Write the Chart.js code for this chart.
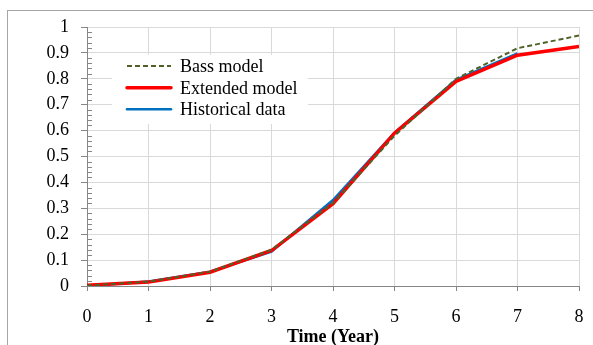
<!DOCTYPE html>
<html>
<head>
<meta charset="utf-8">
<script src="https://cdn.jsdelivr.net/npm/chart.js@4/dist/chart.umd.min.js"></script>
<style>
  html, body { margin: 0; padding: 0; background: #fff; }
  #wrap { position: relative; width: 593px; height: 345px; overflow: hidden; }
  #frame { position: absolute; left: 7px; top: 10px; width: 700px; height: 500px;
           border-left: 1px solid #a6a6a6; border-top: 1px solid #a6a6a6; }
  canvas { position: absolute; left: 0; top: 0; }
</style>
</head>
<body>
<div id="wrap">
  <div id="frame"></div>
  <canvas id="c" width="593" height="345"></canvas>
</div>
<script>
// ---- data ----
const years = [0, 1, 2, 3, 4, 5, 6, 7, 8];
const bassModel = [0.002, 0.017, 0.055, 0.140, 0.320, 0.580, 0.800, 0.918, 0.967];
const extendedModel = [0.003, 0.015, 0.053, 0.137, 0.318, 0.590, 0.790, 0.891, 0.925];
const historicalYears = [0, 1, 2, 3, 4, 5, 6, 7];
const historicalData = [0.000, 0.017, 0.055, 0.133, 0.332, 0.592, 0.796, 0.898];
const xTickLabels = ['0', '1', '2', '3', '4', '5', '6', '7', '8'];
const yTickLabels = ['0', '0.1', '0.2', '0.3', '0.4', '0.5', '0.6', '0.7', '0.8', '0.9', '1'];
const xTitle = 'Time (Year)';
const seriesNames = ['Bass model', 'Extended model', 'Historical data'];

const toXY = (xs, ys) => xs.map((x, i) => ({ x: x, y: ys[i] }));
const SERIF = '"Liberation Serif", "Times New Roman", serif';
const AXIS = '#868686';
const GRID = '#d9d9d9';

const legendPlugin = {
  id: 'customLegend',
  beforeDatasetsDraw(chart) {
    const ctx = chart.ctx;
    ctx.save();
    ctx.fillStyle = '#ffffff';
    ctx.fillRect(112, 55, 196, 69);
    ctx.restore();
  },
  afterDraw(chart) {
    const ctx = chart.ctx;
    const ys = chart.scales.y;
    const axisX = chart.chartArea.left;
    // minor ticks on y axis (inside)
    ctx.save();
    ctx.strokeStyle = AXIS;
    ctx.lineWidth = 1;
    for (let k = 1; k < 50; k++) {
      if (k % 5 === 0) continue;
      const py = Math.round(ys.getPixelForValue(k / 50)) + 0.5;
      ctx.beginPath();
      ctx.moveTo(axisX, py);
      ctx.lineTo(axisX + 5, py);
      ctx.stroke();
    }
    ctx.restore();
    // legend
    const rows = [66, 87.7, 109.3];
    const ds = chart.data.datasets;
    ctx.save();
    ctx.font = '18px ' + SERIF;
    ctx.textAlign = 'left';
    rows.forEach((ry, i) => {
      const d = ds[i];
      ctx.beginPath();
      ctx.strokeStyle = d.borderColor;
      ctx.lineWidth = d.borderWidth;
      ctx.setLineDash(d.borderDash || []);
      ctx.lineCap = d.borderDash ? 'butt' : 'round';
      ctx.moveTo(127, ry);
      ctx.lineTo(171, ry);
      ctx.stroke();
      ctx.setLineDash([]);
      ctx.fillStyle = '#000';
      ctx.textBaseline = 'alphabetic';
      ctx.fillText(d.label, 180, ry + 6);
    });
    ctx.restore();
  }
};

new Chart(document.getElementById('c'), {
  type: 'line',
  data: {
    datasets: [
      { label: seriesNames[0], data: toXY(years, bassModel), borderColor: '#4f6228',
        borderWidth: 2, borderDash: [5, 3], pointRadius: 0, tension: 0, fill: false },
      { label: seriesNames[1], data: toXY(years, extendedModel), borderColor: '#ff0000',
        borderWidth: 3.5, pointRadius: 0, tension: 0, fill: false },
      { label: seriesNames[2], data: toXY(historicalYears, historicalData), borderColor: '#0070c0',
        borderWidth: 2.5, pointRadius: 0, tension: 0, fill: false }
    ]
  },
  options: {
    responsive: false,
    animation: false,
    devicePixelRatio: 1,
    layout: { padding: { left: 0, right: 14, top: 27, bottom: 0 } },
    plugins: { legend: { display: false }, tooltip: { enabled: false } },
    scales: {
      x: {
        type: 'linear', min: 0, max: 8, offset: false,
        afterFit(s) { s.height = 59; s.paddingRight = 0; s.paddingLeft = 0; },
        grid: { color: GRID, tickColor: AXIS, tickLength: 5, drawTicks: true },
        border: { color: AXIS, width: 1 },
        ticks: { stepSize: 1, padding: 15, color: '#000',
                 font: { family: SERIF, size: 18 }, maxRotation: 0,
                 callback: (v, i) => xTickLabels[i] },
        title: { display: true, text: xTitle, color: '#000', padding: { top: 0, bottom: -3 },
                 font: { family: SERIF, size: 18, weight: 'bold' } }
      },
      y: {
        type: 'linear', min: 0, max: 1,
        afterFit(s) { s.width = 87; },
        grid: { color: GRID, tickColor: AXIS, tickLength: 6, drawTicks: true },
        border: { color: AXIS, width: 1 },
        ticks: { stepSize: 0.1, padding: 12, color: '#000',
                 font: { family: SERIF, size: 18 },
                 callback: (v, i) => yTickLabels[i] }
      }
    }
  },
  plugins: [legendPlugin]
});
</script>
</body>
</html>
